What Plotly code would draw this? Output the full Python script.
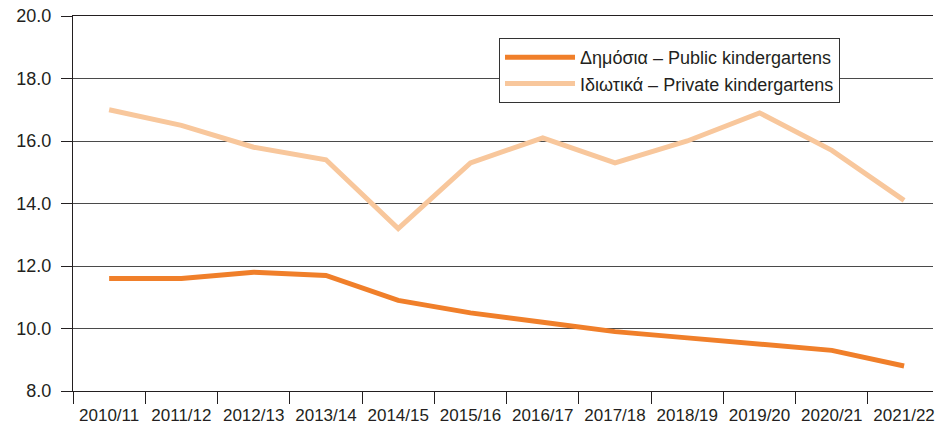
import plotly.graph_objects as go

years = ["2010/11", "2011/12", "2012/13", "2013/14", "2014/15", "2015/16",
         "2016/17", "2017/18", "2018/19", "2019/20", "2020/21", "2021/22"]
public_vals = [11.6, 11.6, 11.8, 11.7, 10.9, 10.5, 10.2, 9.9, 9.7, 9.5, 9.3, 8.8]
private_vals = [17.0, 16.5, 15.8, 15.4, 13.2, 15.3, 16.1, 15.3, 16.0, 16.9, 15.7, 14.1]

public_name = "Δημόσια – Public kindergartens"
private_name = "Ιδιωτικά – Private kindergartens"

FONT = "Liberation Sans, Arial, sans-serif"
INK = "#231F20"

fig = go.Figure()
fig.add_trace(go.Scatter(x=years, y=public_vals, mode="lines", name=public_name,
                         line=dict(color="#F07F2A", width=5)))
fig.add_trace(go.Scatter(x=years, y=private_vals, mode="lines", name=private_name,
                         line=dict(color="#F8C79C", width=5)))

fig.update_layout(
    width=935, height=428,
    margin=dict(l=73, r=0, t=16, b=37),
    paper_bgcolor="white", plot_bgcolor="white",
    font=dict(family=FONT, size=17, color=INK),
    showlegend=True,
    legend=dict(x=(500 - 73) / 862, y=1 - (38 - 16) / 375, xanchor="left", yanchor="top",
                bgcolor="white", bordercolor="#333333", borderwidth=1,
                font=dict(family=FONT, size=18, color=INK),
                itemwidth=70, tracegroupgap=0),
    xaxis=dict(type="category", range=[-0.5, 11.4], tickson="boundaries",
               ticks="outside", ticklen=12, tickcolor=INK, tickwidth=1,
               showline=True, linecolor=INK, linewidth=1, mirror=True,
               showgrid=False, zeroline=False, ticklabelstandoff=9,
               tickfont=dict(family=FONT, size=17, color=INK)),
    yaxis=dict(range=[8, 20], dtick=2, tick0=8, tickformat=".1f",
               ticks="outside", ticklen=11, tickcolor=INK, tickwidth=1,
               showline=True, linecolor=INK, linewidth=1,
               showgrid=True, gridcolor="#4a4a4a", gridwidth=1, zeroline=False,
               ticklabelstandoff=6, ticklabeloverflow="allow",
               tickfont=dict(family=FONT, size=18, color=INK)),
)

fig.write_html("out.html",
               config={"displayModeBar": False},
               post_script="document.body.style.margin='0';document.body.style.overflow='hidden';")
